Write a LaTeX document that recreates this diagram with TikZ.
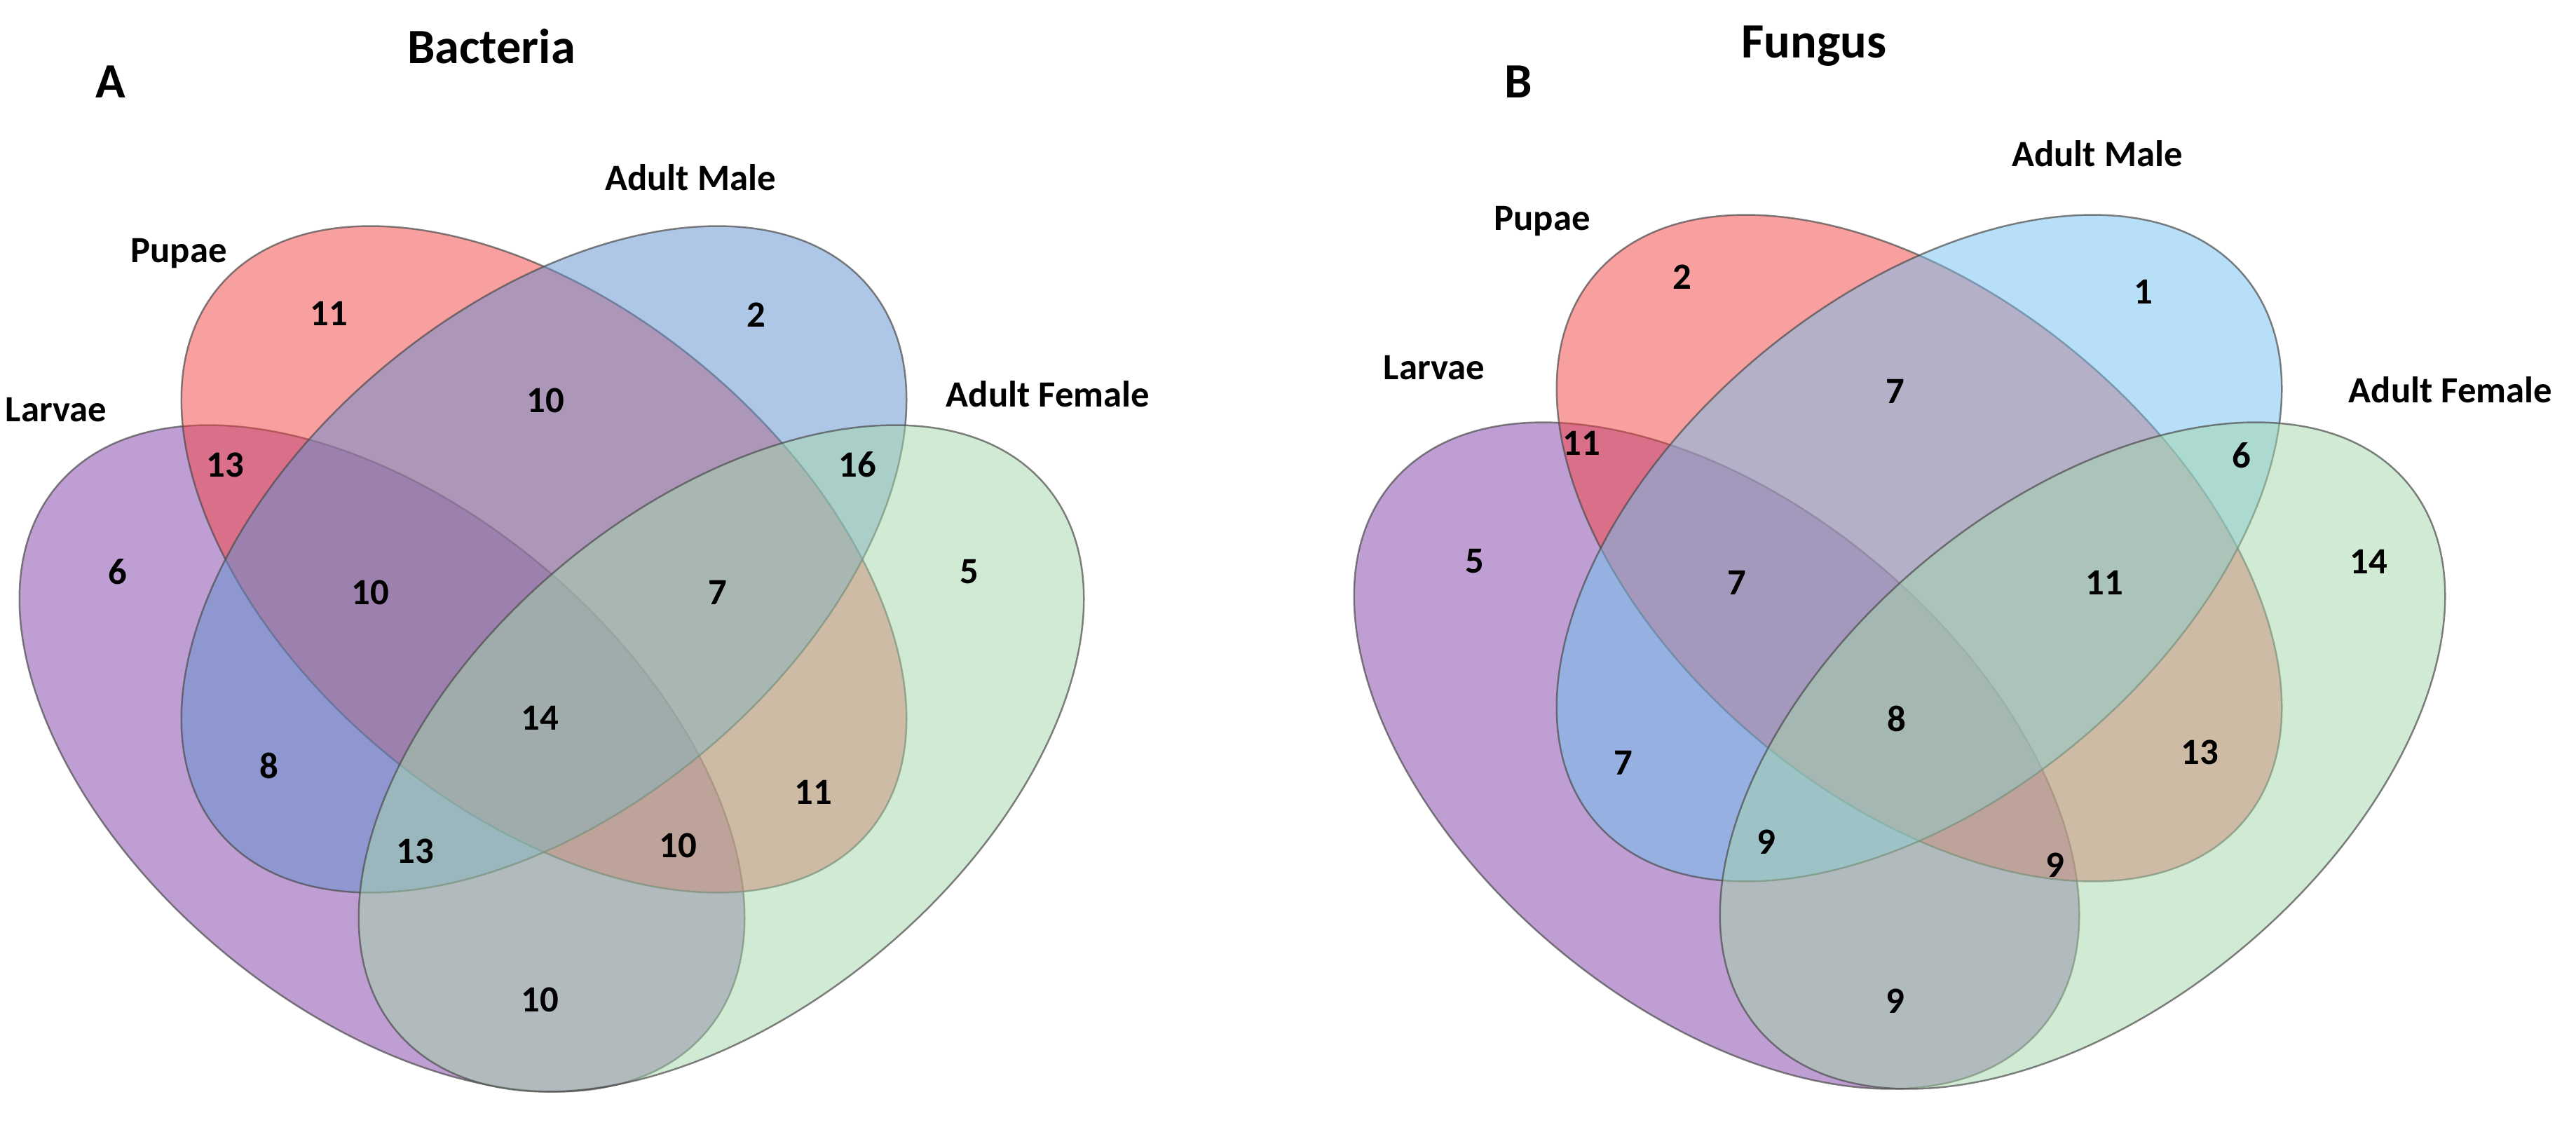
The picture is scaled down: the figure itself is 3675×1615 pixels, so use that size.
\documentclass[tikz,border=0pt]{standalone}
\usepackage{fontspec}
\setmainfont{Carlito}
\definecolor{larv}{RGB}{129,65,169}
\definecolor{pupa}{RGB}{243,65,65}
\definecolor{maleA}{RGB}{97,145,209}
\definecolor{maleB}{RGB}{113,193,241}
\definecolor{fem}{RGB}{165,215,171}
\begin{document}
\begin{tikzpicture}[x=0.01cm,y=-0.01cm,
  set/.style={fill opacity=0.5,draw opacity=0.7,draw=black!70,line width=0.7pt},
  num/.style={font=\fontsize{15}{17}\selectfont\bfseries},
  lab/.style={font=\fontsize{15}{17}\selectfont\bfseries},
  ttl/.style={font=\fontsize{20}{24}\selectfont\bfseries}]
\useasboundingbox (0,0) rectangle (3675,1615);
\fill[white] (0,0) rectangle (3675,1615);
% ---------- Panel A ----------
\path[set,fill=larv,rotate around={-40:(545,1082)}] (545,1082) ellipse [x radius=605,y radius=357];
\path[set,fill=pupa,rotate around={-40:(776,798)}] (776,798) ellipse [x radius=605,y radius=357];
\path[set,fill=maleA,rotate around={40:(776,798)}] (776,798) ellipse [x radius=605,y radius=357];
\path[set,fill=fem,rotate around={40:(1029,1082)}] (1029,1082) ellipse [x radius=605,y radius=357];
\node[ttl] (tA) at (701,66) {Bacteria};
\node[ttl] (pA) at (158,117) {A};
\node[lab] (lpA) at (255,362) {Pupae};
\node[lab] (lmA) at (985,253) {Adult Male};
\node[lab] (llA) at (80,585) {Larvae};
\node[lab] (lfA) at (1495,562) {Adult Female};
\node[num] (a1) at (469,447) {11};
\node[num] (a2) at (1079,449) {2};
\node[num] (a3) at (778,571) {10};
\node[num] (a4) at (321,663) {13};
\node[num] (a5) at (1223,663) {16};
\node[num] (a6) at (168,816) {6};
\node[num] (a7) at (528,845) {10};
\node[num] (a8) at (1024,845) {7};
\node[num] (a9) at (1383,816) {5};
\node[num] (a10) at (770,1024) {14};
\node[num] (a11) at (384,1092) {8};
\node[num] (a12) at (1160,1130) {11};
\node[num] (a13) at (592,1214) {13};
\node[num] (a14) at (967,1206) {10};
\node[num] (a15) at (770,1426) {10};
% ---------- Panel B ----------
\path[set,fill=larv,rotate around={-40:(2449,1078)}] (2449,1078) ellipse [x radius=605,y radius=357];
\path[set,fill=pupa,rotate around={-40:(2738,782)}] (2738,782) ellipse [x radius=605,y radius=357];
\path[set,fill=maleB,rotate around={40:(2738,782)}] (2738,782) ellipse [x radius=605,y radius=357];
\path[set,fill=fem,rotate around={40:(2971,1078)}] (2971,1078) ellipse [x radius=605,y radius=357];
\node[ttl] (tB) at (2588,66) {Fungus};
\node[ttl] (pB) at (2166,117) {B};
\node[lab] (lmB) at (2992,219) {Adult Male};
\node[lab] (lpB) at (2200,316) {Pupae};
\node[lab] (llB) at (2046,525) {Larvae};
\node[lab] (lfB) at (3496,556) {Adult Female};
\node[num] (b1) at (2400,395) {2};
\node[num] (b2) at (3058,416) {1};
\node[num] (b3) at (2704,558) {7};
\node[num] (b4) at (2256,632) {11};
\node[num] (b5) at (3198,650) {6};
\node[num] (b6) at (2104,801) {5};
\node[num] (b7) at (2478,831) {7};
\node[num] (b8) at (3002,831) {11};
\node[num] (b9) at (3379,801) {14};
\node[num] (b10) at (2706,1025) {8};
\node[num] (b11) at (2316,1088) {7};
\node[num] (b12) at (3138,1073) {13};
\node[num] (b13) at (2520,1201) {9};
\node[num] (b14) at (2932,1234) {9};
\node[num] (b15) at (2704,1428) {9};
\end{tikzpicture}
\end{document}
